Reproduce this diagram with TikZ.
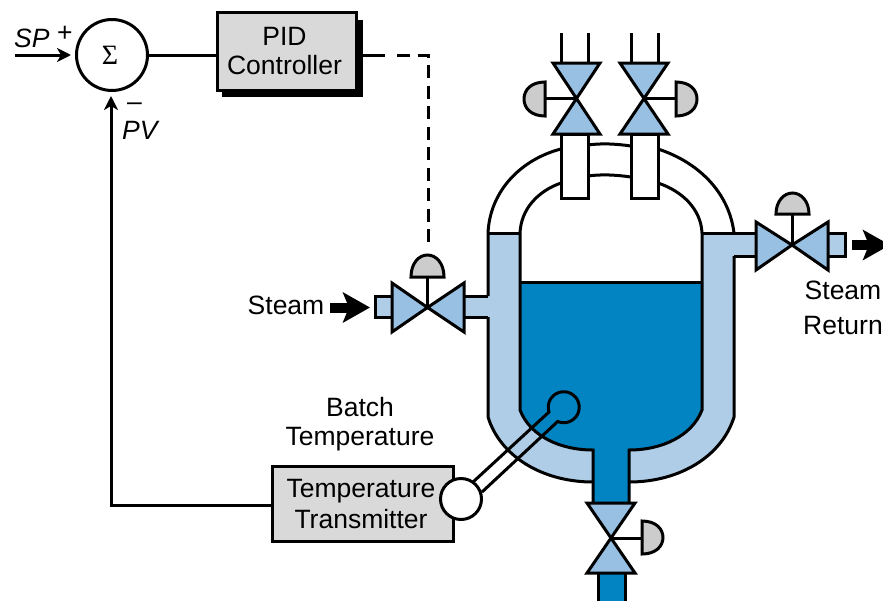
\documentclass[tikz,border=0pt]{standalone}
\usepackage{fontspec}
\setmainfont{Liberation Sans}
\newfontfamily\symbfont{Liberation Serif}
\usetikzlibrary{arrows.meta}
\definecolor{jacket}{HTML}{AFCDE6}
\definecolor{valveblue}{HTML}{97C0E3}
\definecolor{liquid}{HTML}{0284C2}
\definecolor{boxgray}{HTML}{D9D9D9}
\definecolor{actgray}{HTML}{CCCCCC}
\tikzset{
  ln/.style={line width=3pt,draw=black},
  valvepart/.style={ln,fill=valveblue,line join=miter},
  actuator/.style={ln,fill=actgray},
  txt/.style={font=\fontsize{26.5}{29}\selectfont,text=black,align=center,inner sep=0pt},
  ctrlbox/.style={ln,fill=boxgray},
  sig/.style={line width=3pt,draw=black},
  sigarrow/.style={sig,shorten >=4pt,-{Stealth[length=14pt,width=14pt,inset=4pt]}},
  fatarrow/.style={line width=10pt,draw=black,-{Stealth[length=27pt,width=30pt,inset=6pt]}},
}
\begin{document}
\begin{tikzpicture}[x=1pt,y=-1pt]
\useasboundingbox (0,0) rectangle (883,600);
% jacket
\path[fill=jacket] (488,233) -- (520,233) -- (520,410)
  .. controls (530,436) and (560,450) .. (593,450) -- (629,450)
  .. controls (662,450) and (692,436) .. (702,410) -- (702,233) -- (756,233) -- (756,256) -- (734,256) -- (734,417)
  .. controls (722,456) and (680,482) .. (629,482) -- (593,482)
  .. controls (542,482) and (500,456) .. (488,417) -- cycle;
\path[fill=jacket] (464,296) rectangle (490,317);
\path[fill=jacket] (375,296) rectangle (392,317);
\path[fill=jacket] (828,233) rectangle (845,256);
% liquid
\path[fill=liquid] (520,282) -- (702,282) -- (702,410)
  .. controls (692,436) and (662,450) .. (629,450) -- (629,503) -- (593,503) -- (593,450)
  .. controls (560,450) and (530,436) .. (520,410) -- cycle;
\draw[ln,fill=liquid] (598,573) -- (598,602) -- (625,602) -- (625,573);
\draw[ln] (520,282) -- (702,282);
% jacket outlines
\draw[ln] (488,233) -- (520,233);
\draw[ln] (702,233) -- (756,233);
\draw[ln] (756,256) -- (734,256);
\draw[ln] (488,233) -- (488,296) (488,317) -- (488,417)
  .. controls (500,456) and (542,482) .. (593,482);
\draw[ln] (464,296) -- (488,296) (464,317) -- (488,317);
\draw[ln] (734,256) -- (734,417)
  .. controls (722,456) and (680,482) .. (629,482);
\draw[ln] (520,233) -- (520,410)
  .. controls (530,436) and (560,450) .. (593,450) -- (593,503);
\draw[ln] (702,233) -- (702,410)
  .. controls (692,436) and (662,450) .. (629,450) -- (629,503);
% dome
\draw[ln] (488,233) .. controls (490,190) and (522,159) .. (561,149);
\draw[ln] (520,233) .. controls (521,209) and (538,191) .. (561,183);
\draw[ln] (734,233) .. controls (729,192) and (698,162) .. (658,149);
\draw[ln] (702,233) .. controls (701,209) and (682,191) .. (658,183);
\draw[ln] (588,145) .. controls (602,143) and (617,144) .. (631,146);
\draw[ln] (588,176) .. controls (602,174) and (617,175) .. (631,177);
\draw[ln,fill=white] (561,134) rectangle (588,198);
\draw[ln,fill=white] (631,134) rectangle (658,198);
% top pipes
\draw[ln] (561,33) -- (561,63) (588,33) -- (588,63) (631,33) -- (631,63) (658,33) -- (658,63);
% stubs
\draw[ln] (392,296) -- (375,296) -- (375,317) -- (392,317);
\draw[ln] (828,233) -- (845,233) -- (845,256) -- (828,256);
% top valves
\draw[valvepart] (553,63) -- (600,63) -- (576.5,98.5) -- cycle;
\draw[valvepart] (553,134) -- (600,134) -- (576.5,98.5) -- cycle;
\draw[ln] (576.5,98.5) -- (545,98.5);
\draw[actuator] (545,82) .. controls (531,82) and (524,90) .. (524,99) .. controls (524,108) and (531,116) .. (545,116) -- cycle;
\draw[valvepart] (620,63) -- (668,63) -- (644,98.5) -- cycle;
\draw[valvepart] (620,134) -- (668,134) -- (644,98.5) -- cycle;
\draw[ln] (644,98.5) -- (676,98.5);
\draw[actuator] (676,82) .. controls (690,82) and (697,90) .. (697,99) .. controls (697,108) and (690,116) .. (676,116) -- cycle;
% left valve
\draw[valvepart] (392,283) -- (392,332) -- (427.5,307.5) -- cycle;
\draw[valvepart] (464,283) -- (464,332) -- (427.5,307.5) -- cycle;
\draw[ln] (427.5,307.5) -- (427.5,277);
\draw[actuator] (411,277) .. controls (411,263) and (419,255) .. (427.5,255) .. controls (436,255) and (444,263) .. (444,277) -- cycle;
% right valve
\draw[valvepart] (756,222) -- (756,270) -- (792,245) -- cycle;
\draw[valvepart] (828,222) -- (828,270) -- (792,245) -- cycle;
\draw[ln] (792,245) -- (792,214);
\draw[actuator] (776,214) .. controls (776,201) and (784,193) .. (792.5,193) .. controls (801,193) and (809,201) .. (809,214) -- cycle;
% bottom valve
\draw[valvepart] (587,503) -- (635,503) -- (611,538) -- cycle;
\draw[valvepart] (587,573) -- (635,573) -- (611,538) -- cycle;
\draw[ln] (611,538) -- (642,538);
\draw[actuator] (642,521) .. controls (656,521) and (663,529) .. (663,537.5) .. controls (663,546) and (656,554) .. (642,554) -- cycle;
% fat arrows
\coordinate (steamtail) at (330,307.5);
\coordinate (steamtip) at (370,307.5);
\coordinate (rettail) at (852,245);
\coordinate (rettip) at (890,245);
\draw[fatarrow] (steamtail) -- (steamtip);
\draw[fatarrow] (rettail) -- (rettip);
% control
\node[ln,draw,circle,minimum size=71pt,inner sep=0pt,fill=white] (sum) at (112,55) {};
\node[inner sep=0pt,font=\symbfont\fontsize{28}{28}\selectfont] (sigma) at (110,55) {Σ};
\path[fill=black] (222,20) rectangle (363,97);
\node[ctrlbox,minimum width=139pt,minimum height=78pt] (pid) at (287,51.5) {};
\node[txt,anchor=base] (pidtext) at (284.5,74) {PID\\Controller};
\node[ctrlbox,minimum width=181pt,minimum height=75.5pt] (tt) at (363,504) {};
\node[txt,anchor=base] (tttext) at (361,528) {Temperature\\[2pt]Transmitter};
\coordinate (spstart) at (15,55);
\coordinate (pvturn) at (111,505);
\coordinate (dashcorner) at (428,55);
\coordinate (dashend) at (428,249);
\draw[sigarrow] (spstart) -- (sum.west);
\draw[sig] (sum.east) -- (pid.west |- sum.east);
\draw[sig] (360,55) -- (385,55);
\draw[sig,dash pattern=on 13pt off 7.5pt] (397,55) -- (dashcorner) -- (dashend);
\draw[sigarrow] (tt.west |- pvturn) -- (pvturn) -- (111,92);
% probe
\draw[ln] (473,482) -- (549,412) arc[start angle=198,end angle=-113,radius=15.5pt] -- (482,492);
\node[ln,draw,circle,minimum size=41pt,inner sep=0pt,fill=white] (bulb) at (461,499) {};
% labels
\node[txt,anchor=base west] (sp) at (14,47) {\itshape SP};
\node[txt,anchor=base west] (plus) at (57,41) {+};
\node[txt,anchor=base west] (minus) at (127,110) {--};
\node[txt,anchor=base west] (pv) at (122,139) {\itshape PV};
\node[txt,anchor=base] (steam) at (286,314) {Steam};
\node[txt,anchor=base] (ret) at (843,334) {Steam\\[6pt]Return};
\node[txt,anchor=base] (batch) at (360,445) {Batch\\Temperature};
\end{tikzpicture}
\end{document}
